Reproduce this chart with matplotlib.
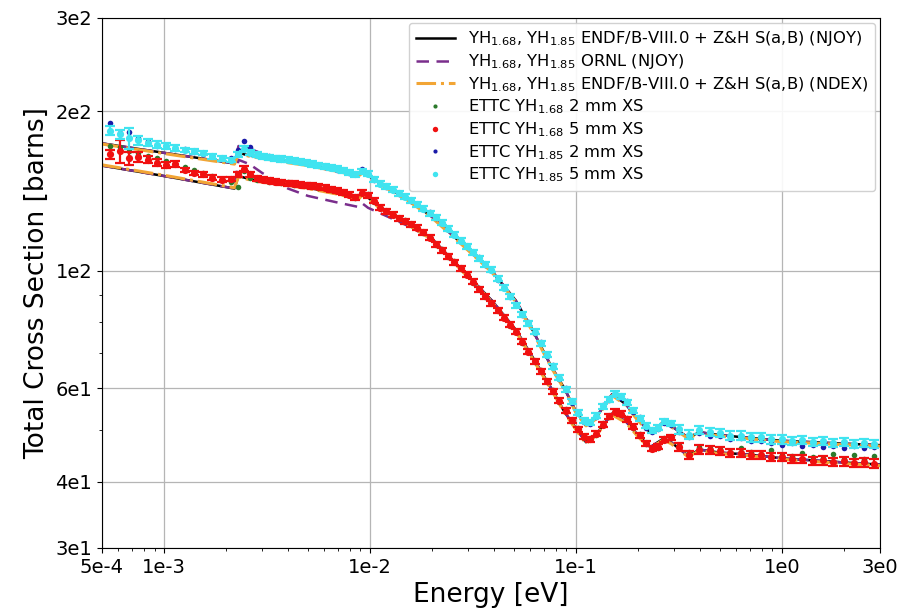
import numpy as np
import matplotlib
matplotlib.use('Agg')
import matplotlib.pyplot as plt
from matplotlib.ticker import FixedLocator, NullFormatter, LogLocator

# ---------------- measured energy grid [eV] ----------------
E_low = [5.50e-4, 6.10e-4, 6.76e-4, 7.50e-4, 8.32e-4, 9.23e-4, 1.023e-3,
         1.135e-3, 1.259e-3, 1.396e-3, 1.549e-3, 1.718e-3, 1.905e-3, 2.113e-3]
E_mid = [2.291e-3, 2.455e-3, 2.630e-3, 2.818e-3, 3.020e-3, 3.236e-3, 3.467e-3, 3.715e-3, 3.981e-3, 4.266e-3,
         4.571e-3, 4.898e-3, 5.248e-3, 5.623e-3, 6.026e-3, 6.457e-3, 6.918e-3, 7.413e-3, 7.943e-3, 8.511e-3,
         9.120e-3, 9.772e-3, 1.047e-2, 1.122e-2, 1.202e-2, 1.288e-2, 1.380e-2, 1.479e-2, 1.585e-2, 1.698e-2,
         1.820e-2, 1.950e-2, 2.089e-2, 2.239e-2, 2.399e-2, 2.570e-2, 2.754e-2, 2.951e-2, 3.162e-2, 3.388e-2,
         3.631e-2, 3.890e-2, 4.169e-2, 4.467e-2, 4.786e-2, 5.129e-2, 5.495e-2, 5.888e-2, 6.310e-2, 6.761e-2,
         7.244e-2, 7.762e-2, 8.318e-2, 8.913e-2, 9.550e-2, 1.023e-1, 1.096e-1, 1.175e-1, 1.259e-1, 1.349e-1,
         1.445e-1, 1.549e-1, 1.660e-1, 1.778e-1, 1.905e-1, 2.042e-1, 2.188e-1, 2.344e-1, 2.512e-1, 2.692e-1,
         2.884e-1]
E_high = [0.3162, 0.3548, 0.3981, 0.4467, 0.5012, 0.5623, 0.6310, 0.7079, 0.7943, 0.8913,
          1.000, 1.122, 1.259, 1.413, 1.585, 1.778, 1.995, 2.239, 2.512, 2.818]

# ---------------- ETTC measurements [barns] ----------------
green_low = [172, 171, 168, 167, 165, 163, 161, 160, 157, 155, 153, 151, 149, 147]
green_mid = [144, 154, 150, 148.5, 148.6, 147.0, 147.5, 146.2, 146.8, 145.4,
             145.9, 144.7, 145.0, 143.6, 143.9, 142.3, 142.0, 140.2, 139.6, 137.5,
             140.0, 139.4, 135.0, 132.0, 129.1, 128.0, 125.4, 124.5, 122.0, 120.9,
             117.8, 115.9, 112.0, 109.8, 106.2, 104.2, 100.8, 98.7, 95.0, 92.8,
             89.3, 87.2, 83.9, 82.0, 78.8, 77.0, 73.2, 70.7, 67.2, 64.9,
             61.6, 59.6, 56.6, 54.8, 52.0, 50.6, 48.4, 48.3, 49.1, 51.6,
             53.0, 54.5, 53.6, 52.8, 50.6, 49.3, 47.1, 46.4, 46.4, 48.3,
             48.3]
green_high = [46.9, 45.6, 46.5, 46.4, 46.2, 45.6, 46.3, 45.5, 45.2, 45.9,
              45.0, 44.7, 45.4, 44.5, 44.4, 45.1, 44.2, 44.9, 44.1, 44.7]

red_low = [166, 168, 163, 164, 162, 160, 158.5, 159, 155, 153, 152, 150, 148.7, 149]
red_mid = [152, 156, 152, 149.5, 148.5, 147.8, 147.2, 146.8, 146.3, 145.9,
           145.5, 145.1, 144.6, 144.1, 143.5, 142.7, 141.7, 140.6, 139.3, 137.8,
           140.5, 139.0, 135.5, 131.5, 129.5, 127.6, 125.8, 124.1, 122.4, 120.5,
           118.2, 115.5, 112.3, 109.4, 106.6, 103.8, 101.2, 98.3, 95.3, 92.4,
           89.6, 86.8, 84.2, 81.6, 79.1, 76.7, 73.5, 70.4, 67.5, 64.6,
           61.9, 59.3, 56.9, 54.5, 52.3, 50.3, 48.6, 48.1, 49.3, 51.3,
           53.2, 54.2, 53.8, 52.5, 50.8, 49.0, 47.3, 46.2, 46.6, 48.0,
           48.5]
red_high = [46.6, 45.0, 46.0, 45.9, 45.8, 45.3, 45.3, 44.9, 44.9, 44.5,
            44.5, 44.1, 44.2, 43.8, 43.9, 43.6, 43.7, 43.4, 43.5, 43.3]

blue_low = [190, 182, 183, 178, 176, 172, 173, 170, 169.5, 167.5, 166, 165, 163.5, 163]
blue_mid = [169, 176, 171, 167, 165, 164.5, 163.5, 163.0, 161.8, 161.5,
            160.2, 160.0, 158.8, 158.5, 157.0, 156.9, 155.2, 155.0, 153.2, 152.6,
            155.5, 152.8, 148.6, 146.4, 144.0, 142.6, 139.8, 138.5, 135.6, 133.9,
            130.6, 128.9, 125.7, 123.6, 119.7, 117.5, 113.7, 111.6, 108.0, 106.1,
            102.6, 100.8, 96.2, 93.4, 89.1, 86.5, 82.4, 80.0, 76.3, 73.3,
            69.0, 66.3, 62.4, 60.0, 56.4, 54.2, 51.8, 51.5, 53.0, 55.8,
            57.0, 58.8, 57.6, 56.8, 54.2, 52.9, 50.6, 49.7, 50.3, 51.7,
            51.2]
blue_high = [49.6, 48.6, 49.4, 48.9, 48.7, 48.2, 48.3, 47.8, 47.7, 47.4,
             47.0, 47.3, 46.8, 47.0, 46.6, 46.8, 46.4, 46.7, 46.3, 46.6]

cyan_low = [184, 181, 178, 176.5, 174.5, 173, 172, 170.5, 169, 168, 167, 164.5, 163, 162]
cyan_mid = [166, 170, 167, 165.5, 164.5, 163.8, 163.2, 162.6, 162.0, 161.3,
            160.6, 159.9, 159.1, 158.3, 157.5, 156.6, 155.7, 154.8, 153.6, 152.2,
            154.0, 152.5, 149.0, 146.0, 144.3, 142.2, 140.1, 138.1, 136.0, 133.5,
            131.0, 128.5, 126.1, 123.2, 120.1, 117.1, 114.1, 111.2, 108.4, 105.7,
            103.0, 100.4, 96.6, 93.0, 89.5, 86.1, 82.8, 79.7, 76.7, 73.0,
            69.4, 66.0, 62.8, 59.8, 56.8, 54.0, 52.2, 51.8, 53.3, 55.5,
            57.3, 58.6, 58.0, 56.5, 54.6, 52.7, 51.0, 50.0, 50.6, 52.0,
            51.6]
cyan_high = [50.2, 49.1, 50.1, 49.6, 49.4, 48.9, 48.9, 48.5, 48.5, 48.1,
             48.1, 47.8, 47.9, 47.6, 47.7, 47.4, 47.5, 47.2, 47.4, 47.2]

# relative uncertainties of the 5 mm measurements
red_relerr_low = [0.02, 0.05, 0.03, 0.02, 0.015, 0.015, 0.012, 0.012, 0.01, 0.01, 0.01, 0.01, 0.01, 0.01]
cyan_relerr_low = [0.02, 0.02, 0.045, 0.02, 0.015, 0.015, 0.012, 0.012, 0.01, 0.012, 0.01, 0.01, 0.01, 0.01]
relerr_mid = 0.011
relerr_high = 0.018

# ---------------- evaluated libraries ----------------
E_lib = [5e-4, 1e-3, 2.2e-3, 2.3e-3, 2.6e-3, 3e-3, 4e-3, 5e-3, 7e-3, 8.8e-3, 9.2e-3, 9.8e-3,
         1.12e-2, 1.5e-2, 2.0e-2, 2.8e-2, 3.9e-2, 5.1e-2, 6.2e-2, 7.6e-2, 8.8e-2, 0.1, 0.112,
         0.125, 0.15, 0.175, 0.2, 0.23, 0.265, 0.29, 0.35, 0.4, 0.5, 0.7, 1.0, 2.0, 3.0]
endf_185 = [174, 167, 159.5, 167, 165, 163.5, 160.5, 158.5, 154.5, 151.5, 153.5, 151.5,
            146, 137, 126.5, 112.5, 100, 88, 77, 66, 60, 54.3, 51.2,
            52.8, 58.5, 56, 52.5, 49.5, 51.8, 51, 48.5, 49.6, 49, 48.4, 47.8, 47.2, 46.9]
endf_168 = [158, 151, 143, 151, 149, 147.5, 145.5, 143.5, 140, 137, 139.5, 137.5,
            131.5, 123.5, 115, 100.5, 88, 77.5, 68.5, 60, 54.2, 50.5, 47.5,
            49, 53.8, 52, 49, 46.5, 48.2, 47.5, 44.8, 46, 45.4, 45, 44.3, 43.5, 43.1]
ornl_185 = [174, 167, 159.5, 172, 170.5, 166, 161, 158.5, 154.5, 151.5, 153.5, 151.5,
            146, 137, 126.5, 112.5, 100, 88, 77, 66, 60, 54.3, 51.2,
            52.8, 58.5, 56, 52.5, 49.5, 51.8, 51, 48.5, 49.6, 49, 48.4, 47.8, 47.2, 46.9]
ornl_168 = [158, 151, 143, 162, 159, 153, 143, 138.5, 134.5, 132, 134, 131.5,
            128.5, 122, 115, 100.5, 88, 77.5, 68.5, 60, 54.2, 50.5, 47.5,
            49, 53.8, 52, 49, 46.5, 48.2, 47.5, 44.8, 46, 45.4, 45, 44.3, 43.5, 43.1]
ndex_185 = [173.5, 166.5, 159, 166.5, 164.5, 163, 160, 158, 154, 151, 153, 151,
            145.5, 136.5, 126, 112, 99.5, 87.5, 76.5, 65.7, 59.7, 54, 51,
            52.5, 58.2, 55.8, 52.2, 49.3, 51.5, 50.8, 48.3, 49.4, 48.8, 48.2, 47.6, 47.0, 46.7]
ndex_168 = [158.5, 151.5, 143.5, 150.5, 148.5, 147, 145, 143, 139.5, 136.5, 139, 137,
            131, 123, 114.5, 100, 87.5, 77, 68, 59.7, 54, 50.2, 47.2,
            48.8, 53.5, 51.7, 48.7, 46.2, 48, 47.2, 44.6, 45.8, 45.2, 44.8, 44.1, 43.3, 42.9]

lbl_endf = r'YH$_{1.68}$, YH$_{1.85}$ ENDF/B-VIII.0 + Z&H S(a,B) (NJOY)'
lbl_ornl = r'YH$_{1.68}$, YH$_{1.85}$ ORNL (NJOY)'
lbl_ndex = r'YH$_{1.68}$, YH$_{1.85}$ ENDF/B-VIII.0 + Z&H S(a,B) (NDEX)'
lbl_g = r'ETTC YH$_{1.68}$ 2 mm XS'
lbl_r = r'ETTC YH$_{1.68}$ 5 mm XS'
lbl_b = r'ETTC YH$_{1.85}$ 2 mm XS'
lbl_c = r'ETTC YH$_{1.85}$ 5 mm XS'

xticks = [5e-4, 1e-3, 1e-2, 1e-1, 1e0, 3e0]
xticklabels = ['5e-4', '1e-3', '1e-2', '1e-1', '1e0', '3e0']
yticks = [30, 40, 60, 100, 200, 300]
yticklabels = ['3e1', '4e1', '6e1', '1e2', '2e2', '3e2']

# ---------------- assemble ----------------
E = np.array(E_low + E_mid + E_high)
green = np.array(green_low + green_mid + green_high)
red = np.array(red_low + red_mid + red_high)
blue = np.array(blue_low + blue_mid + blue_high)
cyan = np.array(cyan_low + cyan_mid + cyan_high)
red_rel = np.concatenate([red_relerr_low, np.full(len(E_mid), relerr_mid), np.full(len(E_high), relerr_high)])
cyan_rel = np.concatenate([cyan_relerr_low, np.full(len(E_mid), relerr_mid), np.full(len(E_high), relerr_high)])

C_BLACK = 'black'
C_PURPLE = '#7a2e8c'
C_ORANGE = '#f2a535'
C_GREEN = '#2c7a2c'
C_RED = '#f01010'
C_BLUE = '#1a1aa8'
C_CYAN = '#40e4f0'

fig = plt.figure(figsize=(9.04, 6.16), dpi=100)
ax = fig.add_axes([0.1128, 0.1104, 0.8607, 0.8604])
ax.set_xscale('log')
ax.set_yscale('log')

ax.plot(E_lib, endf_185, color=C_BLACK, lw=1.8, label=lbl_endf, zorder=2)
ax.plot(E_lib, endf_168, color=C_BLACK, lw=1.8, zorder=2)
ax.plot(E_lib, ornl_185, color=C_PURPLE, lw=1.8, ls=(0, (5, 3)), label=lbl_ornl, zorder=2.1)
ax.plot(E_lib, ornl_168, color=C_PURPLE, lw=1.8, ls=(0, (5, 3)), zorder=2.1)
ax.plot(E_lib, ndex_185, color=C_ORANGE, lw=2.2, ls='-.', label=lbl_ndex, zorder=2.2)
ax.plot(E_lib, ndex_168, color=C_ORANGE, lw=2.2, ls='-.', zorder=2.2)

ax.plot(E, green, 'o', color=C_GREEN, ms=4.0, mew=0, label=lbl_g, zorder=3)
ax.errorbar(E, red, yerr=red * red_rel, fmt='none', ecolor=C_RED, elinewidth=1.6, capsize=3.5, capthick=1.6, zorder=3.1)
ax.plot(E, red, 'o', color=C_RED, ms=5.2, mew=0, label=lbl_r, zorder=3.1)
ax.plot(E, blue, 'o', color=C_BLUE, ms=4.0, mew=0, label=lbl_b, zorder=3.2)
ax.errorbar(E, cyan, yerr=cyan * cyan_rel, fmt='none', ecolor=C_CYAN, elinewidth=1.6, capsize=3.5, capthick=1.6, zorder=3.3)
ax.plot(E, cyan, 'o', color=C_CYAN, ms=5.2, mew=0, label=lbl_c, zorder=3.3)

ax.set_xlim(5e-4, 3e0)
ax.set_ylim(30, 300)
ax.xaxis.set_major_locator(FixedLocator(xticks))
ax.set_xticklabels(xticklabels)
ax.xaxis.set_minor_locator(LogLocator(base=10, subs=np.arange(2, 10)))
ax.xaxis.set_minor_formatter(NullFormatter())
ax.yaxis.set_major_locator(FixedLocator(yticks))
ax.set_yticklabels(yticklabels)
ax.yaxis.set_minor_locator(FixedLocator([50, 70, 80, 90]))
ax.yaxis.set_minor_formatter(NullFormatter())
ax.tick_params(axis='both', which='major', labelsize=14)
ax.grid(True, which='major', color='#b5b5b5', lw=0.9)
ax.set_axisbelow(True)

ax.set_xlabel('Energy [eV]', fontsize=19)
ax.set_ylabel('Total Cross Section [barns]', fontsize=19)

leg = ax.legend(loc='upper right', fontsize=11.8, framealpha=0.9, handlelength=2.4,
                labelspacing=0.24, borderaxespad=0.3, markerscale=0.75)

fig.savefig('out.png', dpi=100)
